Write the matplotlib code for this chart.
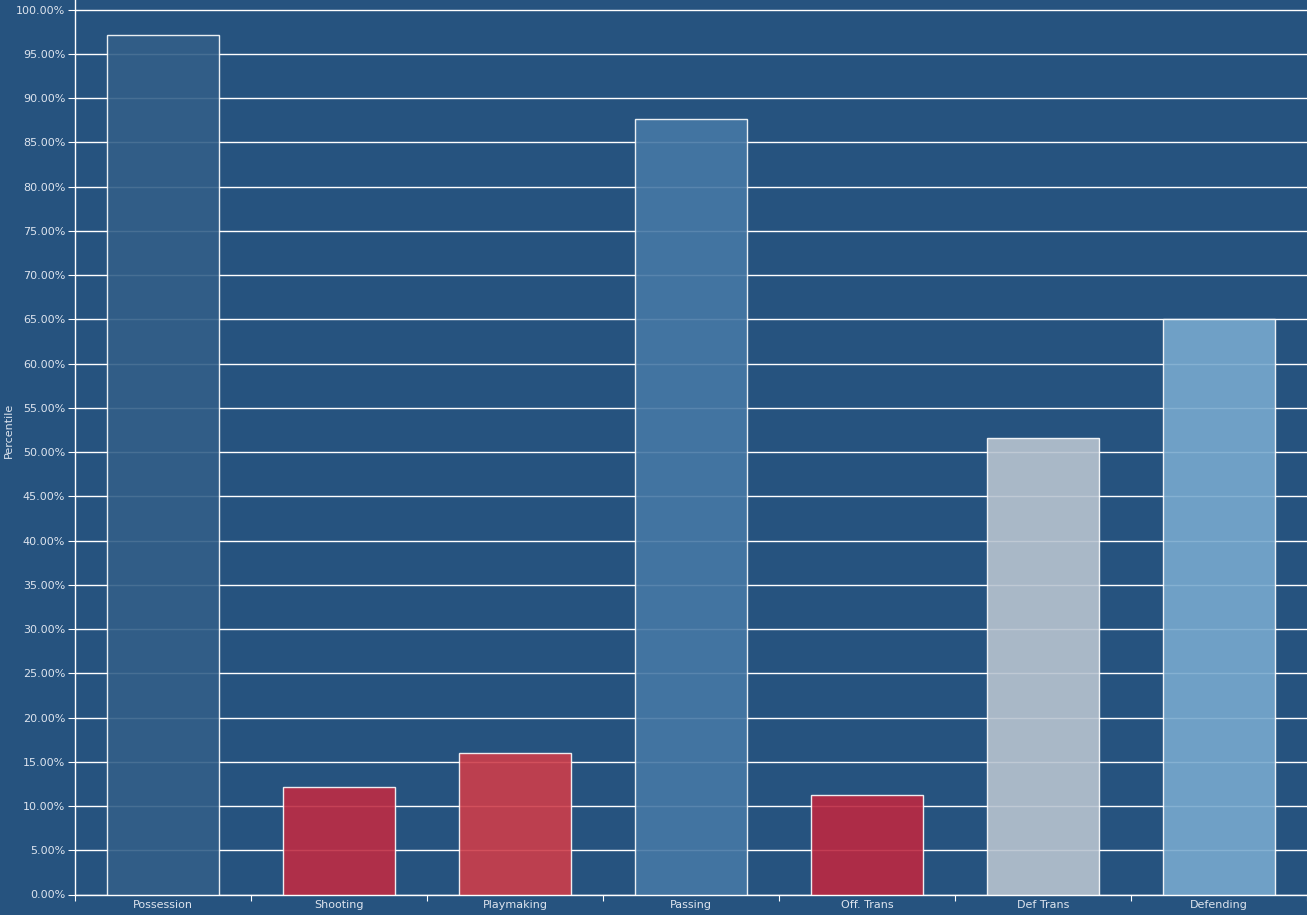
import matplotlib
matplotlib.use("Agg")
import matplotlib.pyplot as plt
import numpy as np
from matplotlib.ticker import PercentFormatter, FixedLocator

categories = ["Possession", "Shooting", "Playmaking", "Passing", "Off. Trans", "Def Trans", "Defending"]
percentiles = [97.2, 12.2, 16.0, 87.7, 11.2, 51.6, 65.1]
shown_colors = ["#325e88", "#b0304a", "#bc3f4f", "#4374a1", "#ae2c47", "#a9b9c8", "#70a0c6"]

bg = np.array([38, 83, 127]) / 255.0
alpha = 0.9

def base_color(hexc):
    d = np.array(matplotlib.colors.to_rgb(hexc))
    c = (d - (1 - alpha) * bg) / alpha
    return tuple(np.clip(c, 0, 1))

bar_colors = [base_color(c) for c in shown_colors]
text_color = "#dde4ee"

fig = plt.figure(figsize=(13.07, 9.15), dpi=100)
fig.patch.set_facecolor(bg)
ax = fig.add_axes([75 / 1307, (915 - 894.5) / 915, 1 - 75 / 1307, 894.5 / 915])
ax.set_facecolor(bg)

x = np.arange(len(categories))
ax.bar(x, percentiles, width=0.64, color=bar_colors, alpha=alpha,
       edgecolor="white", linewidth=1.0, zorder=3)

ax.set_xlim(-0.5, len(categories) - 0.5)
ax.set_ylim(0, 101.1)
ax.yaxis.set_major_locator(FixedLocator(np.arange(0, 101, 5)))
ax.yaxis.set_major_formatter(PercentFormatter(100, decimals=2))
ax.grid(axis="y", color="white", linewidth=1.0, zorder=0)
ax.set_axisbelow(True)

ax.set_xticks(np.arange(-0.5, len(categories), 1.0))
ax.set_xticklabels([])
ax.set_xticks(x, minor=True)
ax.set_xticklabels(categories, minor=True)
ax.tick_params(axis="x", which="minor", length=0, pad=4, labelsize=8, labelcolor=text_color)
ax.tick_params(axis="x", which="major", length=4, color="white")
ax.tick_params(axis="y", length=5, color="white", labelsize=8, labelcolor=text_color, pad=2)

ax.set_ylabel("Percentile", color=text_color, fontsize=8)
ax.yaxis.set_label_coords(-0.0495, 0.519)

for s in ["top", "right"]:
    ax.spines[s].set_visible(False)
for s in ["left", "bottom"]:
    ax.spines[s].set_color("white")
    ax.spines[s].set_linewidth(1.0)

fig.savefig("out.png", dpi=100, facecolor=fig.get_facecolor())
